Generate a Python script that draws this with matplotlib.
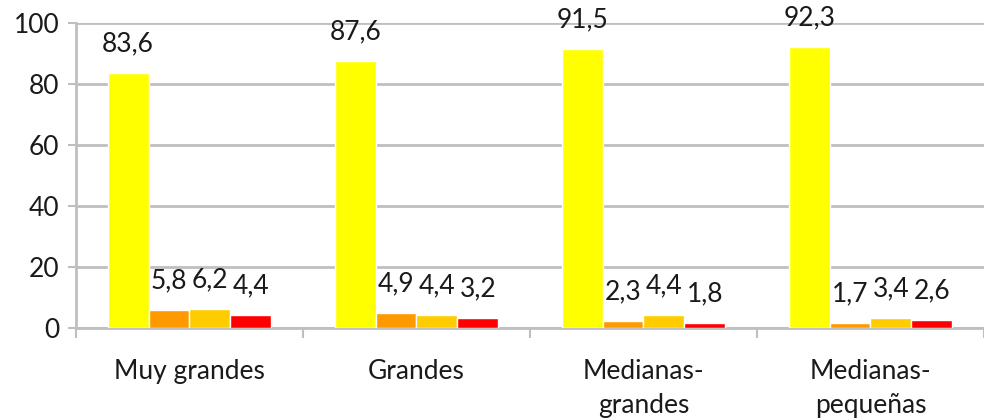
import matplotlib
matplotlib.use("Agg")
import matplotlib.pyplot as plt
import numpy as np

categories = ["Muy grandes", "Grandes", "Medianas-\ngrandes", "Medianas-\npequeñas"]
serie_1 = [83.6, 87.6, 91.5, 92.3]
serie_2 = [5.8, 4.9, 2.3, 1.7]
serie_3 = [6.2, 4.4, 4.4, 3.4]
serie_4 = [4.4, 3.2, 1.8, 2.6]
colors = ["#FFFF00", "#FF9900", "#FFCC00", "#FF0000"]

plt.rcParams["font.family"] = ["Lato", "DejaVu Sans"]
grid_c = "#BFBFBF"
fs = 19

fig = plt.figure(figsize=(9.84, 4.2), dpi=100)
ax = fig.add_axes([0.0772, 0.219, 0.9228, 0.726])

x = np.arange(len(categories))
width = 0.18
series = [serie_1, serie_2, serie_3, serie_4]
for i, (vals, c) in enumerate(zip(series, colors)):
    pos = x + (i - 1.5) * width
    ax.bar(pos, vals, width, color=c, edgecolor="white", linewidth=1, zorder=3)
    for px, v in zip(pos, vals):
        ax.annotate(f"{v:.1f}".replace(".", ","), (px, v), xytext=(0, 21),
                    textcoords="offset points", ha="center", va="center",
                    fontsize=fs, color="#1a1a1a")

ax.set_ylim(0, 100)
ax.set_xlim(-0.5, 3.5)
ax.set_yticks([0, 20, 40, 60, 80, 100])
ax.yaxis.grid(True, color=grid_c, linewidth=2, zorder=0)
ax.set_xticks(x)
ax.set_xticklabels(categories, fontsize=fs, linespacing=1.45)
ax.set_xticks(np.arange(-0.5, 4, 1), minor=True)
ax.tick_params(axis="x", which="major", length=0, pad=22)
ax.tick_params(axis="x", which="minor", length=7, width=1.5, color=grid_c)
ax.tick_params(axis="y", length=6, width=1.5, color=grid_c, labelsize=fs,
               labelcolor="#1a1a1a", pad=6)
ax.tick_params(axis="x", labelcolor="#1a1a1a")
for s in ["top", "right"]:
    ax.spines[s].set_visible(False)
ax.spines["left"].set_color(grid_c)
ax.spines["left"].set_linewidth(2)
ax.spines["bottom"].set_color(grid_c)
ax.spines["bottom"].set_linewidth(2)

fig.savefig("out.png", dpi=100)
